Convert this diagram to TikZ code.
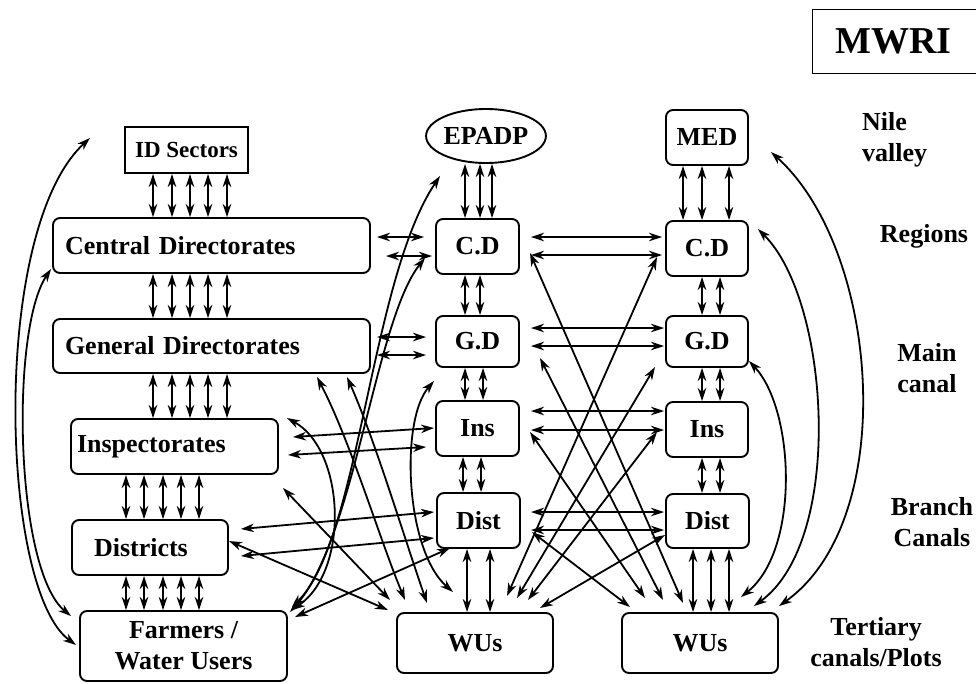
\documentclass[tikz,border=0pt]{standalone}
\usepackage{fontspec}
\setmainfont{Liberation Serif}
\usetikzlibrary{arrows.meta,shapes.geometric}
\begin{document}
\begin{tikzpicture}[x=1pt,y=-1pt,
  every node/.style={font=\fontsize{26}{31}\selectfont\bfseries, inner sep=0pt},
  rbox/.style={draw, line width=1.9pt, rounded corners=7pt, align=center},
  hd/.tip={Stealth[length=13pt,width=8.5pt,inset=4pt]},
  dbl/.style={line width=1.8pt, hd-hd},
  lab/.style={align=center}]
\useasboundingbox (0,0) rectangle (976,683);

% ---------- title
\node[draw, line width=1pt, anchor=north west, minimum width=180pt, minimum height=64pt,
      text width=134pt, inner xsep=23pt, align=left,
      font=\fontsize{38}{44}\selectfont\bfseries] (mwri) at (812,9) {MWRI};

% ---------- left column
\node[draw, line width=1.9pt, minimum width=123pt, minimum height=46pt,
      font=\fontsize{23}{27}\selectfont\bfseries] (ids) at (186.5,150) {ID Sectors};
\node[rbox, minimum height=55pt, text width=293pt, inner xsep=12pt, align=left] (cdl) at (211.5,245.5) {Central Directorates};
\node[rbox, minimum height=54pt, text width=293pt, inner xsep=12pt, align=left] (gdl) at (211.5,346) {General Directorates};
\node[rbox, minimum height=55pt, text width=195pt, inner xsep=6pt, align=left] (insl) at (174.5,446.5) {Inspectorates};
\node[rbox, minimum height=55pt, text width=112pt, inner xsep=22pt, align=left] (distl) at (150,547.5) {Districts};
\node[rbox, minimum width=207pt, minimum height=70pt] (farm) at (183.5,646) {Farmers /\\Water Users};

% ---------- middle column
\node[draw, ellipse, line width=1.9pt, minimum width=118pt, minimum height=54pt] (epadp) at (486,136) {EPADP};
\node[rbox, minimum width=83pt, minimum height=55pt] (cdm) at (477.5,246.5) {C.D};
\node[rbox, minimum width=83pt, minimum height=51pt] (gdm) at (477.5,341.5) {G.D};
\node[rbox, minimum width=83pt, minimum height=55pt] (insm) at (477.5,428.5) {Ins};
\node[rbox, minimum width=83pt, minimum height=55pt] (distm) at (478.5,520.5) {Dist};
\node[rbox, minimum width=156pt, minimum height=60pt] (wum) at (475,643) {WUs};

% ---------- right column
\node[rbox, minimum width=82pt, minimum height=55pt] (med) at (707,137.5) {MED};
\node[rbox, minimum width=82pt, minimum height=55pt] (cdr) at (707,248.5) {C.D};
\node[rbox, minimum width=82pt, minimum height=51pt] (gdr) at (707,341.5) {G.D};
\node[rbox, minimum width=82pt, minimum height=55pt] (insr) at (707,429.5) {Ins};
\node[rbox, minimum width=83pt, minimum height=54pt] (distr) at (707.5,521) {Dist};
\node[rbox, minimum width=156pt, minimum height=60pt] (wur) at (700,643) {WUs};

% ---------- level labels
\node[align=left, anchor=west] (l1) at (862,140) {Nile\\valley};
\node[lab] (l2) at (924,236) {Regions};
\node[lab] (l3) at (927,368) {Main\\canal};
\node[lab] (l4) at (932,522) {Branch\\Canals};
\node[lab] (l5) at (876,642) {Tertiary\\canals/Plots};

% ---------- vertical arrows, left column
\foreach \x in {153,172,190,208,227}{
  \coordinate (vx) at (\x,0);
  \draw[dbl] (ids.south -| vx) -- (cdl.north -| vx);
  \draw[dbl] (cdl.south -| vx) -- (gdl.north -| vx);
  \draw[dbl] (gdl.south -| vx) -- (insl.north -| vx);
}
\foreach \x in {126,144,163,181,199}{
  \coordinate (vx) at (\x,0);
  \draw[dbl] (insl.south -| vx) -- (distl.north -| vx);
  \draw[dbl] (distl.south -| vx) -- (farm.north -| vx);
}
% ---------- vertical arrows, middle column
\foreach \x in {465,480,492}{\coordinate (vx) at (\x,0); \draw[dbl] (epadp.south -| vx) -- (cdm.north -| vx);}
\foreach \x in {465,480}{\coordinate (vx) at (\x,0); \draw[dbl] (cdm.south -| vx) -- (gdm.north -| vx);}
\foreach \x in {465,483}{\coordinate (vx) at (\x,0); \draw[dbl] (gdm.south -| vx) -- (insm.north -| vx);}
\foreach \x in {463,481}{\coordinate (vx) at (\x,0); \draw[dbl] (insm.south -| vx) -- (distm.north -| vx);}
\foreach \x in {467,490}{\coordinate (vx) at (\x,0); \draw[dbl] (distm.south -| vx) -- (wum.north -| vx);}
% ---------- vertical arrows, right column
\foreach \x in {683,702,729}{\coordinate (vx) at (\x,0); \draw[dbl] (med.south -| vx) -- (cdr.north -| vx);}
\foreach \x in {702,720}{\coordinate (vx) at (\x,0);
  \draw[dbl] (cdr.south -| vx) -- (gdr.north -| vx);
  \draw[dbl] (gdr.south -| vx) -- (insr.north -| vx);
  \draw[dbl] (insr.south -| vx) -- (distr.north -| vx);}
\foreach \x in {693,711,729}{\coordinate (vx) at (\x,0); \draw[dbl] (distr.south -| vx) -- (wur.north -| vx);}

% ---------- horizontal arrows left <-> middle
\draw[dbl] ([shift={(6,-8.5)}]cdl.east) -- ([shift={(-11,-9.5)}]cdm.west);
\draw[dbl] ([shift={(15,10.5)}]cdl.east) -- ([shift={(-3,9.5)}]cdm.west);
\draw[dbl] ([shift={(6,-9)}]gdl.east) -- ([shift={(-9,-4.5)}]gdm.west);
\draw[dbl] ([shift={(6,9)}]gdl.east) -- ([shift={(-9,13.5)}]gdm.west);
\draw[dbl] ([shift={(14,-9.5)}]insl.east) -- ([shift={(-1,-0.5)}]insm.west);
\draw[dbl] ([shift={(9,8.5)}]insl.east) -- ([shift={(-9,18.5)}]insm.west);
\draw[dbl] ([shift={(12,-18.5)}]distl.east) -- ([shift={(-2,-8.5)}]distm.west);
\draw[dbl] ([shift={(12,8.5)}]distl.east) -- ([shift={(-2,17.5)}]distm.west);

% ---------- horizontal arrows middle <-> right
\draw[dbl] ([shift={(11,-9.5)}]cdm.east) -- ([shift={(-3,-11.5)}]cdr.west);
\draw[dbl] ([shift={(11,8.5)}]cdm.east) -- ([shift={(-3,6.5)}]cdr.west);
\draw[dbl] ([shift={(11,-13.5)}]gdm.east) -- ([shift={(-1,-13.5)}]gdr.west);
\draw[dbl] ([shift={(11,4.5)}]gdm.east) -- ([shift={(-1,4.5)}]gdr.west);
\draw[dbl] ([shift={(11,-17.5)}]insm.east) -- ([shift={(-1,-18.5)}]insr.west);
\draw[dbl] ([shift={(11,1.5)}]insm.east) -- ([shift={(-1,0.5)}]insr.west);
\draw[dbl] ([shift={(10,-8.5)}]distm.east) -- ([shift={(-1,-9)}]distr.west);
\draw[dbl] ([shift={(10,9.5)}]distm.east) -- ([shift={(-1,9)}]distr.west);

% ---------- diagonals middle column -> right WUs
\draw[dbl] ([shift={(52.5,6.5)}]cdm.center) -- ([shift={(-17,-40)}]wur.center);
\draw[dbl] ([shift={(62.5,16.5)}]gdm.center) -- ([shift={(-37,-43)}]wur.center);
\draw[dbl] ([shift={(52.5,3.5)}]insm.center) -- ([shift={(-55,-45)}]wur.center);
\draw[dbl] ([shift={(53.5,11.5)}]distm.center) -- ([shift={(-70,-36)}]wur.center);
% ---------- diagonals right column -> middle WUs
\draw[dbl] ([shift={(-50,8.5)}]cdr.center) -- ([shift={(32,-47)}]wum.center);
\draw[dbl] ([shift={(-52,25.5)}]gdr.center) -- ([shift={(42,-45)}]wum.center);
\draw[dbl] ([shift={(-50,2.5)}]insr.center) -- ([shift={(53,-43)}]wum.center);
\draw[dbl] ([shift={(-42.5,14)}]distr.center) -- ([shift={(65,-35)}]wum.center);

% ---------- straight lines left region
\draw[dbl] ([shift={(108.5,41.5)}]insl.center) -- ([shift={(-85,-43)}]wum.center);
\draw[dbl] ([shift={(0,-6.5)}]distl.east) -- ([shift={(-87,-33)}]wum.center);
\draw[dbl] ([shift={(-28.5,27.5)}]distm.center) -- ([shift={(111.5,-29)}]farm.center);

% ---------- curves left region
\draw[dbl] ([shift={(-46,40)}]epadp.center) .. controls (370,280) and (360,540) .. ([shift={(108.5,-39)}]farm.center);
\draw[dbl] ([shift={(-52.5,11.5)}]cdm.center) .. controls (375,320) and (355,540) .. ([shift={(106.5,-34)}]farm.center);
\draw[dbl] ([shift={(-1,13)}]gdm.south west) .. controls (400,420) and (405,550) .. ([shift={(-22,-51)}]wum.center);
\draw[dbl] ([shift={(105.5,31)}]gdl.center) .. controls (350,440) and (380,540) .. ([shift={(-70,-43)}]wum.center);
\draw[dbl] ([shift={(135.5,31)}]gdl.center) .. controls (375,440) and (405,540) .. ([shift={(-48,-40)}]wum.center);
\draw[dbl] ([shift={(112.5,-28.5)}]insl.center) .. controls (345,450) and (350,570) .. ([shift={(108.5,-36)}]farm.center);

% ---------- curves right region
\draw[dbl] ([shift={(22,14.5)}]med.east) .. controls (880,250) and (900,520) .. ([shift={(0,-6)}]wur.north east);
\draw[dbl] ([shift={(9,9)}]cdr.north east) .. controls (830,300) and (845,540) .. ([shift={(-25,-6)}]wur.north east);
\draw[dbl] ([shift={(0,-7)}]gdr.south east) .. controls (795,410) and (800,550) .. ([shift={(-38,-15)}]wur.north east);

% ---------- far left curves
\coordinate (otop) at (90,138);
\draw[dbl] ([shift={(-3,-1)}]farm.west) .. controls (0,590) and (-10,230) .. (otop);
\draw[dbl] ([shift={(-8,6)}]farm.north west) .. controls (15,570) and (10,330) .. ([shift={(-1,-5)}]cdl.south west);
\end{tikzpicture}
\end{document}
